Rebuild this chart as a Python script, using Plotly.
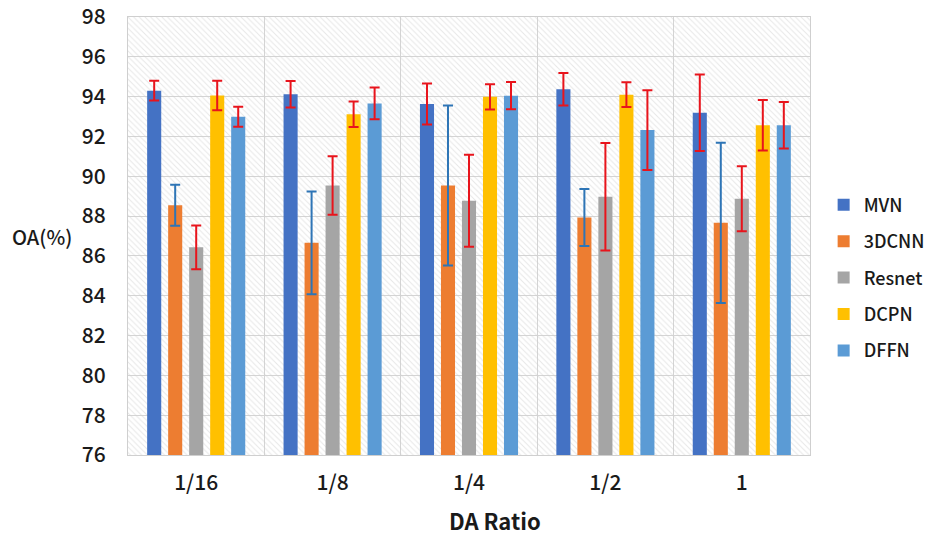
import plotly.graph_objects as go

categories = ["1/16", "1/8", "1/4", "1/2", "1"]
series_names = ["MVN", "3DCNN", "Resnet", "DCPN", "DFFN"]
mvn = [94.30, 94.12, 93.63, 94.37, 93.19]
mvn_err = [0.50, 0.67, 1.03, 0.82, 1.92]
cnn3d = [88.55, 86.66, 89.54, 87.93, 87.66]
cnn3d_err = [1.03, 2.58, 4.02, 1.43, 4.03]
resnet = [86.43, 89.54, 88.77, 88.97, 88.87]
resnet_err = [1.10, 1.47, 2.31, 2.70, 1.63]
dcpn = [94.06, 93.11, 93.99, 94.10, 92.56]
dcpn_err = [0.74, 0.64, 0.63, 0.62, 1.27]
dffn = [92.99, 93.66, 94.05, 92.32, 92.56]
dffn_err = [0.50, 0.80, 0.68, 2.00, 1.17]
y_ticks = list(range(76, 99, 2))
Y_MIN, Y_MAX = 76, 98

values = [mvn, cnn3d, resnet, dcpn, dffn]
errors = [mvn_err, cnn3d_err, resnet_err, dcpn_err, dffn_err]
colors = ["#4472C4", "#ED7D31", "#A5A5A5", "#FFC000", "#5B9BD5"]
err_colors = ["#E8141C", "#2E75B6", "#E8141C", "#E8141C", "#E8141C"]

FONT = "Noto Sans CJK SC"
TXT = "#1a1a1a"
fig = go.Figure()

# hatched background (drawn on hidden base axis, beneath the bars)
fig.add_trace(go.Bar(
    x=[0.5], y=[Y_MAX - Y_MIN], base=[Y_MIN], width=[1],
    xaxis="x", yaxis="y", showlegend=False, hoverinfo="skip",
    marker=dict(color="rgba(0,0,0,0)", line=dict(width=0),
                pattern=dict(shape="\\", fgcolor="#cfcfcf", bgcolor="rgba(0,0,0,0)",
                             size=4, solidity=0.25)),
))

for name, vals, errs, c, ec in zip(series_names, values, errors, colors, err_colors):
    fig.add_trace(go.Bar(
        name=name, x=categories, y=vals, xaxis="x2", yaxis="y",
        marker=dict(color=c, line=dict(width=0)),
        legendgroup=name,
        error_y=dict(type="data", array=errs, visible=True, color=ec,
                     thickness=2, width=5),
    ))

fig.update_layout(
    width=933, height=535,
    margin=dict(l=128, r=123, t=17, b=80, autoexpand=False),
    paper_bgcolor="white", plot_bgcolor="white",
    barmode="group", bargap=0.23, bargroupgap=0.33,
    font=dict(family=FONT, color=TXT),
    xaxis=dict(range=[0, 1], visible=False, fixedrange=True, automargin=False),
    xaxis2=dict(overlaying="x", side="bottom", type="category",
                categoryorder="array", categoryarray=categories,
                tickson="boundaries", showgrid=True, gridcolor="#d4d4d4", gridwidth=1,
                ticks="", showline=True, linecolor="#cfcfcf", linewidth=1, mirror=True,
                automargin=False,
                tickfont=dict(size=21, family=FONT, color=TXT, weight=500),
                ticklabelstandoff=9),
    yaxis=dict(range=[Y_MIN, Y_MAX], tickvals=y_ticks,
               showgrid=True, gridcolor="#d4d4d4", gridwidth=1,
               zeroline=False, showline=True, linecolor="#cfcfcf", linewidth=1, mirror=True,
               ticks="", automargin=False,
               tickfont=dict(size=21, family=FONT, color=TXT, weight=500),
               ticklabelstandoff=17),
    legend=dict(x=1.02, y=0.405, xanchor="left", yanchor="middle",
                font=dict(size=18, family=FONT, color=TXT, weight=500),
                tracegroupgap=10, traceorder="grouped",
                itemwidth=30, bgcolor="rgba(0,0,0,0)"),
    annotations=[
        dict(text="OA(%)", xref="paper", yref="paper", x=-0.173, y=0.498,
             xanchor="left", yanchor="middle", showarrow=False,
             font=dict(size=20, family=FONT, color=TXT, weight=500)),
        dict(text="DA Ratio", xref="paper", yref="paper", x=0.538, y=-0.148,
             xanchor="center", yanchor="middle", showarrow=False,
             font=dict(size=22, family=FONT, color=TXT, weight=700)),
    ],
)

fig.write_html("out.html", config={"displayModeBar": False},
               post_script="document.body.style.margin='0';document.body.style.padding='0';")
